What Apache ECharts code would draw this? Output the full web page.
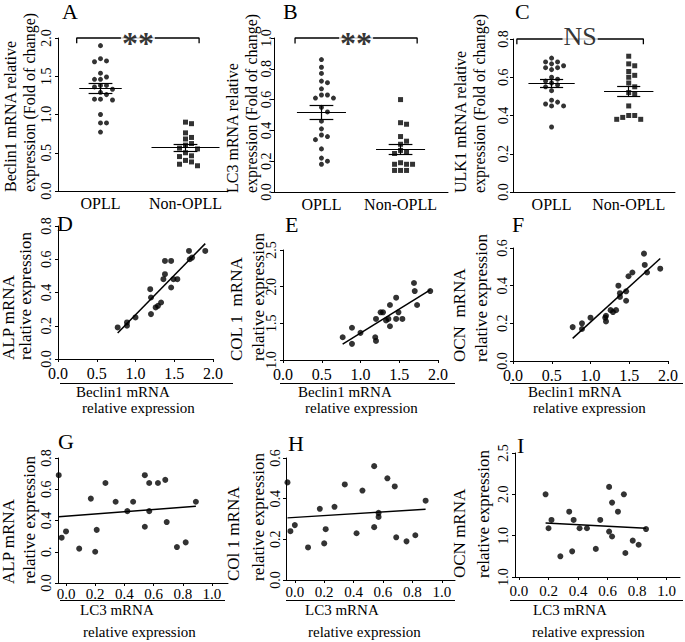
<!DOCTYPE html>
<html><head><meta charset="utf-8">
<script src="https://cdn.jsdelivr.net/npm/echarts@6/dist/echarts.min.js"></script>
<style>html,body{margin:0;padding:0;background:#fff}#c{width:685px;height:642px}</style>
</head><body><div id="c"></div>
<script>
// ---------------- data ----------------
const groupNames = ['OPLL', 'Non-OPLL'];
// panel A
const beclin1Opll = [0.77,0.89,0.89,1.00,1.19,1.20,1.20,1.26,1.29,1.33,1.36,1.38,1.38,1.46,1.46,1.49,1.54,1.69,1.70,1.73,1.90];
const beclin1NonOpll = [0.90,0.88,0.76,0.70,0.68,0.62,0.60,0.56,0.55,0.50,0.46,0.45,0.40,0.38,0.35,0.33];
// panel B
const lc3Opll = [0.18,0.20,0.22,0.28,0.34,0.36,0.37,0.41,0.46,0.52,0.55,0.61,0.61,0.63,0.63,0.67,0.71,0.72,0.77,0.81,0.86];
const lc3NonOpll = [0.60,0.45,0.44,0.36,0.33,0.31,0.27,0.26,0.25,0.19,0.18,0.18,0.18,0.14,0.14,0.14];
// panel C
const ulk1Opll = [0.70,0.68,0.68,0.67,0.66,0.65,0.65,0.64,0.60,0.59,0.58,0.57,0.56,0.55,0.53,0.48,0.47,0.46,0.45,0.45,0.34];
const ulk1NonOpll = [0.71,0.67,0.66,0.63,0.61,0.60,0.57,0.55,0.52,0.51,0.45,0.40,0.40,0.39,0.38,0.38];
const sigLabels = ['**', '**', 'NS'];
// panels D, E, F (x = Beclin1 of OPLL patients)
const alpD  = [0.19,0.20,0.22,0.25,0.42,0.27,0.37,0.31,0.32,0.34,0.48,0.51,0.59,0.59,0.43,0.48,0.48,0.65,0.60,0.61,0.65];
const col1E = [1.31,1.44,1.22,1.37,1.31,1.26,1.56,1.65,1.65,1.54,1.56,1.46,1.75,1.85,1.56,1.65,1.56,2.05,1.94,1.75,1.94];
const ocnF  = [0.18,0.20,0.17,0.23,0.23,0.21,0.24,0.27,0.26,0.27,0.40,0.34,0.36,0.37,0.32,0.45,0.47,0.57,0.51,0.47,0.49];
// panels G, H (x as read against their printed LC3 axis), panel I (x = LC3)
const lc3AsPlottedGH = [-0.05,-0.03,0.00,0.09,0.17,0.20,0.21,0.27,0.34,0.42,0.46,0.54,0.54,0.57,0.57,0.63,0.68,0.69,0.76,0.82,0.89];
const alpG  = [0.69,0.29,0.33,0.22,0.54,0.20,0.34,0.64,0.52,0.46,0.52,0.36,0.69,0.46,0.64,0.64,0.66,0.39,0.23,0.26,0.52];
const col1H = [0.48,0.24,0.27,0.16,0.35,0.18,0.25,0.36,0.47,0.23,0.44,0.26,0.56,0.31,0.33,0.50,0.46,0.21,0.19,0.22,0.39];
const ocnI  = [2.00,1.59,1.69,1.25,1.79,1.31,1.69,1.59,1.59,1.34,1.69,1.55,2.09,1.49,1.90,1.79,2.00,1.29,1.44,1.39,1.58];
// tick values / labels
const ticksA = [0,0.5,1,1.5,2];
const ticksB = [0,0.2,0.4,0.6,0.8,1.0];
const ticksC = [0,0.2,0.4,0.6,0.8];
const ticksBeclinX = [0,0.5,1,1.5,2];
const ticksDy = [0,0.2,0.4,0.6,0.8];
const ticksEy = [1,1.5,2,2.5];
const ticksFy = [0,0.2,0.4,0.6];
const ticksLc3X = [0,0.2,0.4,0.6,0.8,1.0];
const ticksGy = [0,0.2,0.4,0.6,0.8];
const labelsGy = ['0.0','0.','0.4','0.6','0.8'];
const ticksHy = [0,0.2,0.4,0.6];
const ticksIy = [1,1.5,2,2.5];
const labelsIy = ['1.0','1.0','2.0','2.5'];

// ---------------- layout / styling ----------------
const FONT = 'Liberation Serif, Times New Roman, serif';
const chart = echarts.init(document.getElementById('c'), null, {renderer: 'svg'});
const grids = [], xAxes = [], yAxes = [], series = [], graphics = [];

function fmt(ticks, labels) {
  return function (v) {
    const i = ticks.findIndex(t => Math.abs(t - v) < 1e-9);
    if (labels) return labels[i];
    return Number(v).toFixed(1);
  };
}
function addPanel(g, xc, yc) {
  const gi = grids.length;
  grids.push(Object.assign({containLabel: false, outerBoundsMode: 'none'}, g));
  xAxes.push({
    gridIndex: gi, type: 'value', min: xc.min, max: xc.max,
    axisLine: {show: true, onZero: false, lineStyle: {color: '#000', width: 1}},
    axisTick: {show: xc.tick !== false, length: 3, customValues: xc.ticks, lineStyle: {color: '#000'}},
    axisLabel: {customValues: xc.ticks, formatter: xc.fmt, margin: xc.margin, color: '#000', fontFamily: FONT, fontSize: xc.fs},
    splitLine: {show: false}
  });
  yAxes.push({
    gridIndex: gi, type: 'value', min: yc.min, max: yc.max,
    axisLine: {show: true, onZero: false, lineStyle: {color: '#000', width: 1}},
    axisTick: {show: true, length: 3, customValues: yc.ticks, lineStyle: {color: '#000'}},
    axisLabel: {customValues: yc.ticks, formatter: fmt(yc.ticks, yc.labels), rotate: 90, margin: yc.margin, color: '#000', fontFamily: FONT, fontSize: 14},
    splitLine: {show: false}
  });
  return gi;
}
function meanSem(v) {
  const n = v.length, m = v.reduce((a, b) => a + b, 0) / n;
  const sd = Math.sqrt(v.reduce((a, b) => a + (b - m) * (b - m), 0) / (n - 1));
  return [m, sd / Math.sqrt(n)];
}
function swarm(vals, center, pxX, pxY, d) {
  const idx = vals.map((v, i) => i).sort((a, b) => vals[b] - vals[a]);
  const placed = [], res = [];
  idx.forEach(i => {
    const yp = vals[i] * pxY;
    for (let k = 0; k < 60; k++) {
      const off = k === 0 ? 0 : (k % 2 ? 1 : -1) * Math.ceil(k / 2) * d;
      if (placed.every(p => (p[0] - off) ** 2 + (p[1] - yp) ** 2 >= d * d * 0.8)) {
        placed.push([off, yp]); res[i] = [center + off / pxX, vals[i]]; break;
      }
    }
  });
  return res;
}
function linfit(x, y) {
  const n = x.length, mx = x.reduce((a, b) => a + b, 0) / n, my = y.reduce((a, b) => a + b, 0) / n;
  let sxy = 0, sxx = 0;
  for (let i = 0; i < n; i++) { sxy += (x[i] - mx) * (y[i] - my); sxx += (x[i] - mx) ** 2; }
  const b = sxy / sxx; return {a: my - b * mx, b};
}
function addText(x, y, text, size, opts) {
  graphics.push(Object.assign({type: 'text', x, y, silent: true,
    style: Object.assign({text, fill: '#000', font: size + 'px ' + FONT, textAlign: 'left', textVerticalAlign: 'top'}, (opts && opts.style) || {})
  }, opts && opts.rotation ? {rotation: opts.rotation} : {}));
}
function addYName(g, lines, edges, size) {
  lines.forEach((t, i) => addText(edges[i], g.top + g.height + 1, t, size,
    {rotation: Math.PI / 2, style: {textAlign: 'left', textVerticalAlign: 'bottom'}}));
}

// ---------- top row: dot plots ----------
function dotPanel(letter, g, xr, yr, yTicks, yMargin, grp1, grp2, meanHW, capHW, bracket, sig, sigOff, sigSize, sigWeight) {
  const gi = addPanel(g, {min: xr[0], max: xr[1], ticks: [1, 2], fmt: v => groupNames[Math.round(v) - 1], tick: false, margin: 4, fs: 16},
    {min: yr[0], max: yr[1], ticks: yTicks, margin: yMargin});
  const pxX = g.width / (xr[1] - xr[0]), pxY = g.height / (yr[1] - yr[0]);
  [grp1, grp2].forEach((vals, k) => {
    const c = k + 1, [m, s] = meanSem(vals), hw = meanHW[k], cw = capHW;
    series.push({
      type: 'scatter', xAxisIndex: gi, yAxisIndex: gi, silent: true,
      symbol: k === 0 ? 'circle' : 'rect', symbolSize: 5,
      itemStyle: {color: '#000'}, data: swarm(vals, c, pxX, pxY, 6),
      markLine: {silent: true, symbol: ['none', 'none'], label: {show: false}, animation: false,
        lineStyle: {color: '#000', width: 1.2, type: 'solid'},
        emphasis: {disabled: true},
        data: [
          [{coord: [c - hw, m]}, {coord: [c + hw, m]}],
          [{coord: [c, m - s]}, {coord: [c, m + s]}],
          [{coord: [c - cw, m - s]}, {coord: [c + cw, m - s]}],
          [{coord: [c - cw, m + s]}, {coord: [c + cw, m + s]}]
        ]}
    });
  });
  const top = yr[1], drop = (yr[1] - yr[0]) * 0.035;
  series.push({type: 'line', xAxisIndex: gi, yAxisIndex: gi, silent: true, symbol: 'none', clip: false,
    lineStyle: {color: '#000', width: 1.3},
    data: [[bracket[0], top - drop], [bracket[0], top], [bracket[1], top], [bracket[1], top - drop]]});
  series.push({type: 'scatter', xAxisIndex: gi, yAxisIndex: gi, silent: true, clip: false, symbolSize: 1,
    itemStyle: {color: 'rgba(0,0,0,0)'}, data: [[(bracket[0] + bracket[1]) / 2, top]], z: 5,
    label: {show: true, position: 'inside', formatter: sig, offset: sigOff, color: '#000', textBorderWidth: 0,
      fontFamily: FONT, fontSize: sigSize, fontWeight: sigWeight, backgroundColor: '#fff', padding: [0, 1], lineHeight: sigSize}});
  addText(letter[1], letter[2], letter[0], 22, {style: {textVerticalAlign: 'middle'}});
}
dotPanel(['A', 62, 11.5], {left: 58, top: 38, width: 170, height: 153}, [0.5, 2.5], [0, 2], ticksA, 5,
  beclin1Opll, beclin1NonOpll, [0.25, 0.4], 0.14, [0.72, 2.16], sigLabels[0], [0, 5], 32, 'bold');
dotPanel(['B', 283, 11.5], {left: 274, top: 38, width: 174, height: 154}, [0.4, 2.6], [0, 1], ticksB, 1,
  lc3Opll, lc3NonOpll, [0.31, 0.31], 0.15, [0.666, 2.21], sigLabels[1], [0, 5], 32, 'bold');
dotPanel(['C', 515, 11.5], {left: 513, top: 39, width: 162, height: 153}, [0.5, 2.6], [0, 0.8], ticksC, 3,
  ulk1Opll, ulk1NonOpll, [0.3, 0.32], 0.15, [0.55, 2.19], sigLabels[2], [0, -3], 26, 'normal');
addYName({top: 38, height: 153}, ['Beclin1 mRNA relative', 'expression (Fold of change)'], [18, 37], 16);
addYName({top: 38, height: 154}, ['LC3 mRNA relative', 'expression (Fold of change)'], [240, 259], 16);
addYName({top: 39, height: 153}, ['ULK1 mRNA relative', 'expression (Fold of change)'], [468, 487], 16);

// ---------- scatter + regression panels ----------
function corrPanel(letter, g, xr, xTicks, xfs, xMargin, yr, yTicks, yLabels, yMargin, xs, ys, yName, yEdges, xName, xNamePos, underline) {
  const gi = addPanel(g, {min: xr[0], max: xr[1], ticks: xTicks, fmt: fmt(xTicks), margin: xMargin, fs: xfs},
    {min: yr[0], max: yr[1], ticks: yTicks, labels: yLabels, margin: yMargin});
  series.push({type: 'scatter', xAxisIndex: gi, yAxisIndex: gi, silent: true, symbol: 'circle', symbolSize: 6,
    itemStyle: {color: '#000'}, data: xs.map((x, i) => [x, ys[i]])});
  const f = linfit(xs, ys), x0 = Math.min(...xs), x1 = Math.max(...xs);
  series.push({type: 'line', xAxisIndex: gi, yAxisIndex: gi, silent: true, symbol: 'none',
    lineStyle: {color: '#000', width: 1.5}, data: [[x0, f.a + f.b * x0], [x1, f.a + f.b * x1]]});
  addText(letter[1], letter[2], letter[0], 22, {style: {textVerticalAlign: 'middle'}});
  addYName(g, yName, yEdges, 17);
  xName.forEach((t, i) => addText(xNamePos[i][0], xNamePos[i][1], t, 15));
  graphics.push({type: 'line', silent: true, shape: {x1: underline[0], y1: underline[2], x2: underline[1], y2: underline[2]},
    style: {stroke: '#000', lineWidth: 1}});
}
const beclinName = ['Beclin1 mRNA', 'relative expression'];
const lc3Name = ['LC3 mRNA', 'relative expression'];
corrPanel(['D', 57, 223.5], {left: 58, top: 226, width: 155, height: 133}, [0, 2], ticksBeclinX, 16, 6,
  [0, 0.8], ticksDy, null, 5, beclin1Opll, alpD, ['ALP mRNA', 'relative expression'], [17, 34],
  beclinName, [[76, 384], [82, 400]], [60, 233, 383.5]);
corrPanel(['E', 285, 224.5], {left: 283, top: 250, width: 155, height: 110}, [0, 2], ticksBeclinX, 16, 6,
  [1, 2.5], ticksEy, null, 5, beclin1Opll, col1E, ['COL 1  mRNA', 'relative expression'], [245, 267],
  beclinName, [[298, 384], [305, 400]], [280, 455, 383.5]);
corrPanel(['F', 512, 224.5], {left: 513, top: 248, width: 155, height: 113}, [0, 2], ticksBeclinX, 16, 6,
  [0, 0.6], ticksFy, null, 4, beclin1Opll, ocnF, ['OCN  mRNA', 'relative expression'], [468, 490],
  beclinName, [[528, 384], [533, 400]], [510, 683, 383.5]);
corrPanel(['G', 58, 441.5], {left: 58, top: 458, width: 170, height: 125}, [-0.055, 1.11], ticksLc3X, 15, 3,
  [0, 0.8], ticksGy, labelsGy, 5, lc3AsPlottedGH, alpG, ['ALP mRNA', 'relative expression'], [17, 38],
  lc3Name, [[80, 602], [83, 624]], [60, 225, 600.5]);
corrPanel(['H', 288, 443.5], {left: 286, top: 458, width: 169, height: 122}, [-0.06, 1.09], ticksLc3X, 15, 4,
  [0, 0.6], ticksHy, null, 4, lc3AsPlottedGH, col1H, ['COl 1 mRNA', 'relative expression'], [242, 267],
  lc3Name, [[305, 602], [308, 624]], [286, 455, 600.5]);
corrPanel(['I', 517, 445.5], {left: 515, top: 453, width: 165, height: 124}, [-0.027, 1.09], ticksLc3X, 15, 6,
  [1, 2.5], ticksIy, labelsIy, 5, lc3Opll, ocnI, ['OCN mRNA', 'relative expression'], [468, 492],
  lc3Name, [[533, 602], [532, 624]], [510, 683, 600.5]);

chart.setOption({
  animation: false,
  backgroundColor: '#fff',
  grid: grids, xAxis: xAxes, yAxis: yAxes, series: series, graphic: graphics
});
</script></body></html>
